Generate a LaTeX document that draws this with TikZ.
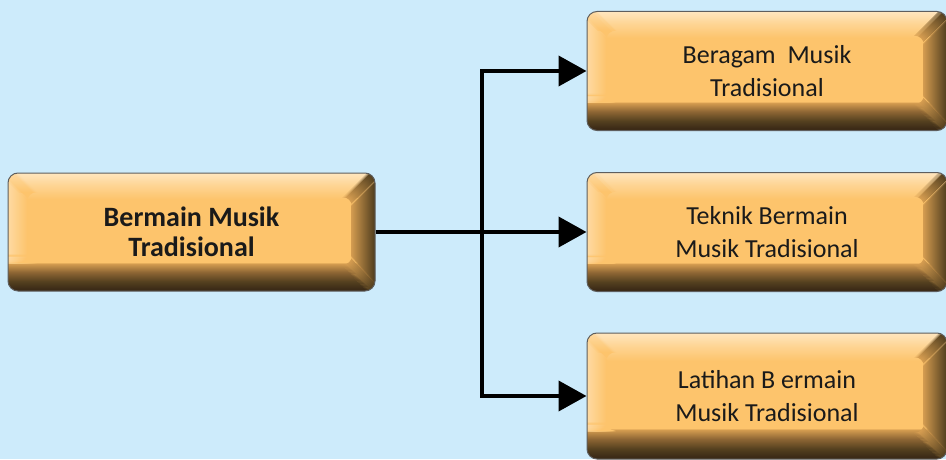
\documentclass[tikz,border=0pt]{standalone}
\usepackage{fontspec}
\setmainfont{Carlito}
\usetikzlibrary{arrows.meta}

\definecolor{bgblue}{HTML}{CDEBFB}
\definecolor{boxorange}{HTML}{FDC46C}
\definecolor{boxmid}{HTML}{FED595}
\definecolor{boxlight}{HTML}{FFE6BF}
\definecolor{boxleft}{HTML}{FEDAA2}
\definecolor{bevtan}{HTML}{D49C50}
\definecolor{bevbrown}{HTML}{8E6634}
\definecolor{bevshade}{HTML}{54401F}
\definecolor{bevdark}{HTML}{3C2B17}
\definecolor{boxedge}{HTML}{5E5E5E}
\definecolor{boxtext}{HTML}{1A1A1A}

\pgfdeclareverticalshading{boxshade}{100bp}{color(0bp)=(bevdark); color(25bp)=(bevdark); color(26bp)=(bevdark); color(29bp)=(bevshade); color(33bp)=(bevbrown); color(36.6bp)=(bevtan); color(37.2bp)=(boxorange); color(64bp)=(boxorange); color(70bp)=(boxmid); color(75bp)=(boxlight); color(100bp)=(boxlight)}

\tikzset{
  box/.style={rectangle, rounded corners=10pt, draw=boxedge, line width=1pt,
    shade, shading=boxshade, inner sep=0pt, align=center, text=boxtext,
    path picture={
      \coordinate (ppne) at (path picture bounding box.north east);
      \coordinate (ppse) at (path picture bounding box.south east);
      \coordinate (ppnw) at (path picture bounding box.north west);
      \coordinate (ppsw) at (path picture bounding box.south west);
      % right bevel
      \foreach \i [evaluate=\i as \d using 24-\i, evaluate=\i as \p using 100*\i/23,
                   evaluate=\i as \b using 26*(24-\i)/24] in {0,...,23}
        \fill[bevshade!\p!bevtan] ([shift={(-\d pt,-\d pt)}]ppne) rectangle ([shift={(-\d pt+1.2pt,\b pt)}]ppse);
      % left bevel
      \foreach \i [evaluate=\i as \p using 100*\i/19] in {0,...,19}
        \fill[boxorange!\p!boxleft] ([shift={(\i pt,-\i pt)}]ppnw) rectangle ([shift={(\i pt+1.2pt,28pt)}]ppsw);
    }},
  mainbox/.style={box, font=\fontsize{28}{30}\selectfont\bfseries},
  subbox/.style={box, minimum width=360pt, minimum height=119pt, font=\fontsize{26}{33}\selectfont},
  conn/.style={line width=4pt, -{Triangle[length=28pt, width=30pt]}}
}

\begin{document}
\begin{tikzpicture}[x=1pt, y=1pt]
  % Background
  \useasboundingbox (0,0) rectangle (946,459);
  \fill[bgblue] (0,0) rectangle (946,459);

  % Boxes
  \node[mainbox, minimum width=367pt, minimum height=118pt] (bermain) at (191.5,227) {Bermain Musik\\Tradisional};
  \node[subbox] (beragam) at (767,388) {Beragam~~Musik\\Tradisional};
  \node[subbox] (teknik) at (767,227) {Teknik Bermain\\Musik Tradisional};
  \node[subbox, minimum height=126pt] (latihan) at (767,63) {Latihan B ermain\\Musik Tradisional};

  % Connectors
  \coordinate (split) at (482,227);
  \draw[conn] (bermain.east) -- (teknik.west);
  \draw[conn] (split) |- (beragam.west);
  \draw[conn] (split) |- (latihan.west);
\end{tikzpicture}
\end{document}
